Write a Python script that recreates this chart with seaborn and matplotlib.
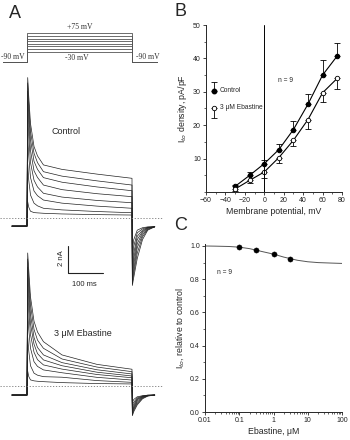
import numpy as np
import pandas as pd
import matplotlib
matplotlib.use("Agg")
import matplotlib.pyplot as plt
import matplotlib.ticker as mticker
import seaborn as sns

# ---------------- data ----------------
# Panel A: voltage protocol (mV) and current traces (nA)
test_potentials = [-30, -15, 0, 15, 30, 45, 60, 75]
hold_mv = -90
t_hold = [-43, 0]
t_pulse = [0, 2, 5, 10, 20, 30, 47, 100, 200, 300]
t_tail = [300, 301, 305, 315, 330, 345, 365]
ctrl_hold = -0.6
ebas_hold = -0.67
# rows ordered from +75 mV down to -30 mV
ctrl_pulse = [
    [-0.6, 10.4, 9.0, 7.0, 5.3, 4.6, 3.93, 3.6, 3.25, 2.94],
    [-0.6, 10.0, 8.5, 6.4, 4.8, 4.1, 3.43, 3.1, 2.75, 2.44],
    [-0.6, 9.4, 7.8, 5.8, 4.2, 3.6, 2.99, 2.65, 2.3, 2.02],
    [-0.6, 8.6, 7.0, 5.0, 3.5, 3.0, 2.44, 2.1, 1.8, 1.58],
    [-0.6, 7.5, 6.0, 4.1, 2.8, 2.3, 1.83, 1.55, 1.3, 1.13],
    [-0.6, 6.0, 4.6, 3.0, 2.0, 1.65, 1.33, 1.1, 0.88, 0.72],
    [-0.6, 4.0, 2.8, 1.7, 1.1, 0.9, 0.72, 0.6, 0.48, 0.39],
    [-0.6, 1.2, 0.8, 0.5, 0.4, 0.38, 0.35, 0.3, 0.25, 0.22],
]
ctrl_tail = [
    [2.94, -5.0, -4.4, -3.0, -1.6, -0.9, -0.65],
    [2.44, -4.8, -4.1, -2.6, -1.4, -0.85, -0.65],
    [2.02, -4.6, -3.8, -2.2, -1.25, -0.8, -0.65],
    [1.58, -4.3, -3.4, -1.9, -1.1, -0.75, -0.65],
    [1.13, -4.0, -3.0, -1.6, -1.0, -0.72, -0.65],
    [0.72, -3.6, -2.6, -1.35, -0.9, -0.7, -0.65],
    [0.39, -3.0, -2.1, -1.1, -0.8, -0.68, -0.65],
    [0.22, -2.4, -1.6, -0.9, -0.72, -0.66, -0.65],
]
ebas_pulse = [
    [-0.67, 9.85, 8.6, 6.6, 4.8, 4.0, 3.28, 2.3, 1.6, 1.24],
    [-0.67, 9.4, 8.0, 6.0, 4.2, 3.4, 2.79, 2.0, 1.4, 1.06],
    [-0.67, 8.8, 7.3, 5.3, 3.6, 2.85, 2.30, 1.73, 1.2, 0.89],
    [-0.67, 8.0, 6.5, 4.6, 3.1, 2.4, 1.93, 1.5, 1.02, 0.74],
    [-0.67, 7.0, 5.5, 3.8, 2.5, 1.95, 1.56, 1.25, 0.85, 0.61],
    [-0.67, 5.6, 4.2, 2.8, 1.8, 1.45, 1.19, 0.98, 0.64, 0.44],
    [-0.67, 3.6, 2.6, 1.5, 0.95, 0.8, 0.69, 0.65, 0.4, 0.27],
    [-0.67, 1.1, 0.7, 0.45, 0.38, 0.35, 0.32, 0.25, 0.18, 0.15],
]
ebas_tail = [
    [1.24, -2.2, -1.9, -1.4, -0.95, -0.75, -0.67],
    [1.06, -2.1, -1.8, -1.3, -0.9, -0.73, -0.67],
    [0.89, -2.0, -1.7, -1.2, -0.86, -0.72, -0.67],
    [0.74, -1.9, -1.6, -1.1, -0.82, -0.71, -0.67],
    [0.61, -1.8, -1.5, -1.0, -0.8, -0.7, -0.67],
    [0.44, -1.6, -1.35, -0.95, -0.77, -0.69, -0.67],
    [0.27, -1.4, -1.2, -0.88, -0.74, -0.68, -0.67],
    [0.15, -1.2, -1.0, -0.8, -0.72, -0.68, -0.67],
]

# Panel B: I-V relation
vm = [-30, -15, 0, 15, 30, 45, 60, 75]
ctrl_density = [1.7, 5.0, 8.5, 12.7, 18.7, 26.3, 35.0, 40.7]
ctrl_sem = [0.5, 0.9, 1.0, 1.8, 2.5, 2.9, 4.5, 3.8]
ebas_density = [0.9, 3.5, 6.0, 10.3, 15.5, 21.7, 29.7, 34.0]
ebas_sem = [0.5, 0.8, 1.7, 1.5, 1.8, 2.7, 2.7, 3.3]

# Panel C: concentration-response
conc = [0.1, 0.3, 1, 3]
rel_current = [0.995, 0.973, 0.950, 0.924]
fit_conc = [0.01, 0.02, 0.05, 0.1, 0.2, 0.5, 1, 2, 5, 10, 20, 50, 100]
fit_rel = [1.0, 0.999, 0.997, 0.993, 0.984, 0.965, 0.951, 0.933, 0.914, 0.905, 0.900, 0.897, 0.895]

# ---------------- style ----------------
sns.set_theme(style="ticks")
plt.rcParams['font.family'] = ['Liberation Sans', 'DejaVu Sans']
plt.rcParams['axes.linewidth'] = 0.7

W, H = 350, 440
fig = plt.figure(figsize=(3.5, 4.4), dpi=100)


def box(l, t, r, b):
    return [l / W, 1 - b / H, (r - l) / W, (b - t) / H]

# ---------------- panel A: protocol ----------------
axP = fig.add_axes(box(0, 25, 167, 70))
axP.set_xlim(-77.14, 400)
axP.set_ylim(-134.5, 122.4)
axP.axis('off')
prot = []
for v in test_potentials:
    xs = [-68.6, 0, 0, 300, 300, 371]
    ys = [hold_mv, hold_mv, v, v, hold_mv, hold_mv]
    for i, (x, y) in enumerate(zip(xs, ys)):
        prot.append(dict(t=x, v=y, lev=v, order=i))
prot = pd.DataFrame(prot)
sns.lineplot(data=prot, x='t', y='v', units='lev', estimator=None, sort=False,
             color='#555555', lw=0.6, ax=axP, legend=False)
sfont = dict(family=['Liberation Serif', 'DejaVu Serif'], fontsize=5.5, color='#333333')
axP.text(150, 75 + 2.5 * 5.71, '+75 mV', ha='center', va='bottom', **sfont)
axP.text(143, -30 - 2.5 * 5.71, '-30 mV', ha='center', va='top', **sfont)
axP.text(-40, -90 + 1.5 * 5.71, '-90 mV', ha='center', va='bottom', **sfont)
axP.text(345, -90 + 1.5 * 5.71, '-90 mV', ha='center', va='bottom', **sfont)

# ---------------- panel A: traces ----------------
axA = fig.add_axes(box(0, 70, 167, 440))
axA.set_xlim(-77.14, 400)
axA.set_ylim(-16.44, 10.96)
axA.axis('off')
ebas_offset = -12.44

rows = []
for cond, pulse, tail, hold, off in [('ctrl', ctrl_pulse, ctrl_tail, ctrl_hold, 0.0),
                                     ('ebas', ebas_pulse, ebas_tail, ebas_hold, ebas_offset)]:
    for k in range(len(pulse)):
        ts = list(t_hold) + list(t_pulse) + list(t_tail)
        ys = [hold, hold] + list(pulse[k]) + list(tail[k])
        for i, (x, y) in enumerate(zip(ts, ys)):
            rows.append(dict(t=x, i=y + off, unit=f'{cond}{k}', order=i))
traces = pd.DataFrame(rows)
sns.lineplot(data=traces, x='t', y='i', units='unit', estimator=None, sort=False,
             color='#222222', lw=0.5, ax=axA, legend=False)
for off in (0.0, ebas_offset):
    axA.plot([-77, 388], [off, off], ls=(0, (1.5, 2)), color='#777777', lw=0.6)
# scale bar: 2 nA, 100 ms
axA.plot([117, 117, 217], [-2.07, -4.07, -4.07], color='#222222', lw=0.8)
axA.text(100, -3.0, '2 nA', rotation=90, ha='center', va='center', fontsize=5.5)
axA.text(163, -4.7, '100 ms', ha='center', va='top', fontsize=5.5)
axA.text(111, 6.44, 'Control', ha='center', va='center', fontsize=6.5)
axA.text(160, -8.52, '3 μM Ebastine', ha='center', va='center', fontsize=6.5)

# ---------------- panel B ----------------
axB = fig.add_axes(box(206, 25, 342, 192))
axB.errorbar(vm, ctrl_density, yerr=[np.zeros(len(vm)), ctrl_sem], fmt='none',
             ecolor='black', elinewidth=0.6, capsize=2, capthick=0.6)
axB.errorbar(vm, ebas_density, yerr=[ebas_sem, np.zeros(len(vm))], fmt='none',
             ecolor='black', elinewidth=0.6, capsize=2, capthick=0.6)
sns.lineplot(x=vm, y=ctrl_density, color='black', lw=0.8, marker='o', markersize=3.2,
             markerfacecolor='black', markeredgecolor='black', ax=axB)
sns.lineplot(x=vm, y=ebas_density, color='black', lw=0.8, marker='o', markersize=3.2,
             markerfacecolor='white', markeredgecolor='black', markeredgewidth=0.6, ax=axB)
axB.axvline(0, color='black', lw=0.7)
axB.set_xlim(-60, 80)
axB.set_ylim(0, 50)
axB.set_xticks([-60, -40, -20, 0, 20, 40, 60, 80])
axB.set_yticks([10, 20, 30, 40, 50])
axB.yaxis.set_minor_locator(mticker.MultipleLocator(5))
axB.xaxis.set_minor_locator(mticker.MultipleLocator(10))
sns.despine(ax=axB)
axB.tick_params(which='major', length=2.2, width=0.6, labelsize=5, pad=1.5, colors='#222222')
axB.tick_params(which='minor', length=1.3, width=0.5)
axB.set_xlabel('Membrane potential, mV', fontsize=6.3, labelpad=2)
axB.set_ylabel('I$_{to}$ density, pA/pF', fontsize=6.3, labelpad=3)
# legend
axB.errorbar([-51.4], [30.3], yerr=[[0], [2.5]], fmt='o', color='black', ms=3.2,
             elinewidth=0.6, capsize=2, capthick=0.6)
axB.errorbar([-51.4], [25.2], yerr=[[3.0], [0]], fmt='o', color='black', ms=3.2,
             mfc='white', mew=0.6, elinewidth=0.6, capsize=2, capthick=0.6)
axB.text(-46, 30.3, 'Control', fontsize=4.8, va='center')
axB.text(-46, 25.2, '3 μM Ebastine', fontsize=4.8, va='center')
axB.text(14, 33.3, 'n = 9', fontsize=4.8, va='center')

# ---------------- panel C ----------------
axC = fig.add_axes(box(205, 243.5, 342, 412))
sns.lineplot(x=fit_conc, y=fit_rel, color='#555555', lw=0.7, ax=axC)
sns.scatterplot(x=conc, y=rel_current, color='black', s=14, edgecolor='black', ax=axC, zorder=3)
axC.set_xscale('log')
axC.set_xlim(0.01, 100)
axC.set_ylim(0, 1.015)
axC.set_xticks([0.01, 0.1, 1, 10, 100])
axC.set_xticklabels(['0.01', '0.1', '1', '10', '100'])
axC.xaxis.set_minor_locator(mticker.LogLocator(base=10, subs=np.arange(2, 10)))
axC.xaxis.set_minor_formatter(mticker.NullFormatter())
axC.set_yticks([0.0, 0.2, 0.4, 0.6, 0.8, 1.0])
axC.set_yticklabels(['0.0', '0.2', '0.4', '0.6', '0.8', '1.0'])
axC.yaxis.set_minor_locator(mticker.MultipleLocator(0.1))
sns.despine(ax=axC)
axC.tick_params(which='major', length=2.2, width=0.6, labelsize=5, pad=1.5, colors='#222222')
axC.tick_params(which='minor', length=1.3, width=0.5)
axC.set_xlabel('Ebastine, μM', fontsize=6.3, labelpad=2)
axC.set_ylabel('I$_{to}$, relative to control', fontsize=6.3, labelpad=3)
axC.text(0.022, 0.84, 'n = 9', fontsize=4.8, va='center')

# panel letters
for lab, x, y in [('A', 15, 13), ('B', 181, 11), ('C', 181, 225)]:
    fig.text(x / W, 1 - y / H, lab, fontsize=13, ha='center', va='center')

fig.savefig('out.png', dpi=100)
